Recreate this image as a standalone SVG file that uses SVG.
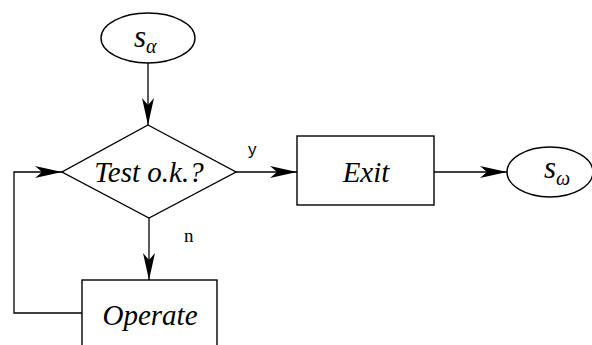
<svg xmlns="http://www.w3.org/2000/svg" width="592" height="345" viewBox="0 0 592 345">
<style>
.shape{fill:#fff;stroke:#000;stroke-width:1.4}
.line{fill:none;stroke:#000;stroke-width:1.3}
.t{font-family:"Liberation Serif","Times New Roman",serif;font-style:italic;font-size:29px;fill:#000}
.sub{font-family:"Liberation Serif","Times New Roman",serif;font-style:italic;font-size:20px;fill:#000}
.lab{font-family:"Liberation Sans",Arial,sans-serif;font-size:17px;fill:#000}
</style>
<defs>
<marker id="ah" markerUnits="userSpaceOnUse" markerWidth="30" markerHeight="16" viewBox="-27 -8 30 16" refX="0" refY="0" orient="auto">
<path d="M0,0 L-27,-6 L-20,0 L-27,6 Z" fill="#000"/>
</marker>
</defs>
<g id="connectors">
<line class="line" x1="148" y1="63" x2="148" y2="125" marker-end="url(#ah)"/>
<line class="line" x1="236" y1="172" x2="297" y2="172" marker-end="url(#ah)"/>
<line class="line" x1="434" y1="172" x2="507" y2="172" marker-end="url(#ah)"/>
<line class="line" x1="149" y1="218" x2="149" y2="280" marker-end="url(#ah)"/>
<polyline class="line" points="82,313 14,313 14,172 62,172" marker-end="url(#ah)"/>
<text class="lab" x="248" y="155">y</text>
<text class="lab" x="184" y="242" style="font-family:'Liberation Serif','Times New Roman',serif;font-size:19px">n</text>
</g>
<g id="start">
<ellipse class="shape" cx="148" cy="38" rx="47" ry="25"/>
<text class="t" x="134" y="47" style="font-size:31px">s<tspan class="sub" dy="6">α</tspan></text>
</g>
<g id="test">
<polygon class="shape" points="148,125 236,172 149,218 62,172"/>
<text class="t" x="149" y="182" text-anchor="middle">Test o.k.?</text>
</g>
<g id="exit">
<rect class="shape" x="297" y="136" width="137" height="69"/>
<text class="t" x="366" y="182" text-anchor="middle">Exit</text>
</g>
<g id="end">
<ellipse class="shape" cx="550" cy="172" rx="43" ry="25"/>
<text class="t" x="544" y="178" style="font-size:31px">s<tspan class="sub" dy="7">ω</tspan></text>
</g>
<g id="operate">
<rect class="shape" x="82" y="280" width="135" height="80"/>
<text class="t" x="150" y="325" text-anchor="middle">Operate</text>
</g>
</svg>
